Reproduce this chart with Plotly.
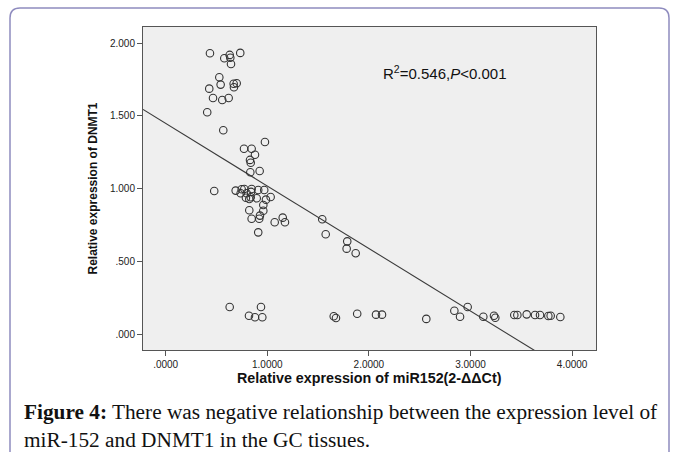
import plotly.graph_objects as go

# ---------------- data ----------------
mir152 = [0.436, 0.577, 0.630, 0.636, 0.734, 0.643, 0.528, 0.541, 0.429, 0.669,
          0.699, 0.672, 0.466, 0.557, 0.620, 0.409, 0.567, 0.977, 0.771, 0.846,
          0.879, 0.830, 0.837, 0.833, 0.925, 0.478, 0.689, 0.748, 0.774, 0.846,
          0.911, 0.970, 0.738, 0.797, 0.840, 0.790, 0.823, 0.837, 0.896, 0.987,
          1.033, 0.961, 0.961, 0.823, 0.928, 0.846, 0.921, 1.152, 1.073, 1.174,
          0.911, 1.541, 1.575, 1.787, 1.781, 1.870, 0.630, 0.938, 0.820, 0.879,
          0.951, 1.654, 1.676, 1.885, 2.070, 2.129, 2.565, 2.841, 2.897, 2.972,
          3.126, 3.231, 3.244, 3.431, 3.461, 3.553, 3.635, 3.684, 3.766, 3.789,
          3.884]
dnmt1 = [1.931, 1.896, 1.919, 1.900, 1.933, 1.857, 1.765, 1.715, 1.687, 1.721,
         1.724, 1.697, 1.623, 1.609, 1.623, 1.525, 1.401, 1.320, 1.274, 1.274,
         1.233, 1.197, 1.178, 1.112, 1.121, 0.983, 0.986, 0.995, 0.997, 0.997,
         0.990, 0.990, 0.968, 0.968, 0.977, 0.937, 0.928, 0.940, 0.933, 0.924,
         0.942, 0.887, 0.848, 0.851, 0.814, 0.793, 0.793, 0.800, 0.768, 0.768,
         0.699, 0.789, 0.686, 0.637, 0.587, 0.555, 0.186, 0.186, 0.126, 0.115,
         0.115, 0.122, 0.110, 0.139, 0.133, 0.133, 0.104, 0.160, 0.119, 0.186,
         0.119, 0.126, 0.112, 0.131, 0.131, 0.135, 0.131, 0.131, 0.124, 0.126,
         0.117]

fit_intercept = 1.448
fit_slope = -0.430

x_tickvals = [0, 1, 2, 3, 4]
x_ticktext = ['.0000', '1.0000', '2.0000', '3.0000', '4.0000']
y_tickvals = [0, 0.5, 1.0, 1.5, 2.0]
y_ticktext = ['.000', '.500', '1.000', '1.500', '2.000']

x_range = [-0.223, 4.235]
y_range = [-0.110, 2.111]

x_title = 'Relative expression of miR152(2-ΔΔCt)'
y_title = 'Relative expression of DNMT1'
stat_text = 'R<sup>2</sup>=0.546,<i>P</i>&lt;0.001'
caption1 = '<b>Figure 4:</b> There was negative relationship between the expression level of'
caption2 = 'miR-152 and DNMT1 in the GC tissues.'

# ---------------- layout helpers ----------------
W, H = 679, 452
PL, PR, PT, PB = 143, 596, 27, 350   # plot area in pixels
pw, ph = PR - PL, PB - PT


def px2x(px):
    return (px - PL) / pw


def py2y(py):
    return (PB - py) / ph


fit_x = list(x_range)
fit_y = [fit_intercept + fit_slope * v for v in fit_x]

fig = go.Figure()
fig.add_trace(go.Scatter(
    x=fit_x, y=fit_y, mode='lines',
    line=dict(color='#3a3a3a', width=1.1),
    hoverinfo='skip', showlegend=False))
fig.add_trace(go.Scatter(
    x=mir152, y=dnmt1, mode='markers',
    marker=dict(symbol='circle-open', size=7.5, color='#333333',
                line=dict(width=1.1, color='#333333')),
    showlegend=False))

axis_common = dict(showline=True, mirror=True, linecolor='#555555', linewidth=1,
                   showgrid=False, zeroline=False, ticks='outside', ticklen=5,
                   tickcolor='#555555', tickwidth=1,
                   tickfont=dict(family='Liberation Sans, Arial', size=10, color='#222222'))

fig.update_xaxes(range=x_range, tickmode='array', tickvals=x_tickvals,
                 ticktext=x_ticktext, **axis_common)
fig.update_yaxes(range=y_range, tickmode='array', tickvals=y_tickvals,
                 ticktext=y_ticktext, **axis_common)

# rounded purple page border (top part)
bx0, bx1 = px2x(10), px2x(669)
byt, byb = py2y(8), py2y(480)
rdx, rdy = 10 / pw, 10 / ph
path = (f'M {bx0},{byb} L {bx0},{byt - rdy} Q {bx0},{byt} {bx0 + rdx},{byt} '
        f'L {bx1 - rdx},{byt} Q {bx1},{byt} {bx1},{byt - rdy} L {bx1},{byb}')

fig.update_layout(
    width=W, height=H,
    margin=dict(l=PL, r=W - PR, t=PT, b=H - PB),
    paper_bgcolor='white', plot_bgcolor='#efefef',
    shapes=[dict(type='path', xref='paper', yref='paper', path=path,
                 line=dict(color='#8f8cbf', width=1.5), layer='above')],
    annotations=[
        dict(text=stat_text, xref='paper', yref='paper', x=px2x(381), y=py2y(72),
             xanchor='left', yanchor='middle', showarrow=False,
             font=dict(family='Liberation Sans, Arial', size=15, color='#111111')),
        dict(text=f'<b>{x_title}</b>', xref='paper', yref='paper', x=0.5, y=py2y(378),
             xanchor='center', yanchor='middle', showarrow=False,
             font=dict(family='Liberation Sans, Arial', size=14.3, color='#111111')),
        dict(text=f'<b>{y_title}</b>', xref='paper', yref='paper', x=px2x(92), y=0.5,
             xanchor='center', yanchor='middle', showarrow=False, textangle=-90,
             font=dict(family='Liberation Sans, Arial', size=12, color='#111111')),
        dict(text=caption1, xref='paper', yref='paper', x=px2x(22), y=py2y(412),
             xanchor='left', yanchor='middle', showarrow=False,
             font=dict(family='Liberation Serif, Times New Roman', size=21.3, color='#111111')),
        dict(text=caption2, xref='paper', yref='paper', x=px2x(22), y=py2y(440),
             xanchor='left', yanchor='middle', showarrow=False,
             font=dict(family='Liberation Serif, Times New Roman', size=21.3, color='#111111')),
    ],
)

fig.write_html('out.html',
               config={'displayModeBar': False},
               post_script="document.body.style.margin='0';document.body.style.overflow='hidden';")
